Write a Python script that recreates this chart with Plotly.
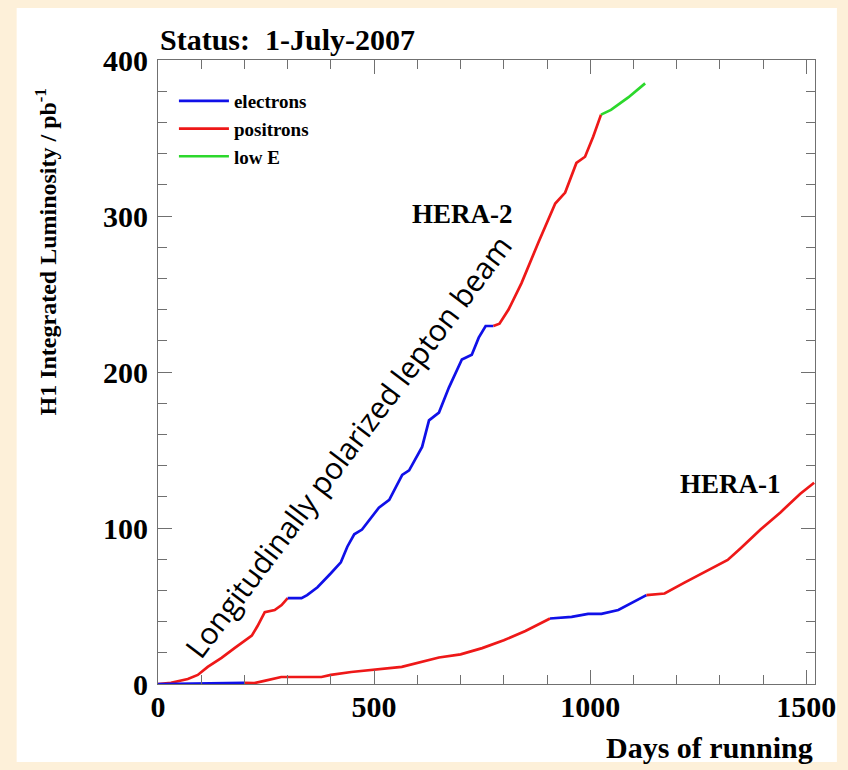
import plotly.graph_objects as go

# ---------------- data ----------------
# HERA-2 (upper curve)
h2_pos1_days = [0, 30, 69, 92, 115, 147, 177, 217, 230, 247, 270, 286, 300]
h2_pos1_lumi = [0, 0.8, 3.2, 5.8, 11, 16.7, 23, 31, 37, 46, 47.4, 50.6, 55]
h2_ele_days = [300, 332, 345, 369, 400, 423, 438, 454, 472, 511, 535, 565, 581, 611,
               627, 650, 673, 703, 726, 742, 758, 776]
h2_ele_lumi = [55, 55, 57, 62, 71, 78, 88, 96, 99, 113, 118, 134, 137, 152,
               169, 174, 190, 208, 211, 222, 229.5, 229.5]
h2_pos2_days = [776, 790, 811, 841, 880, 919, 942, 968, 988, 1007, 1025]
h2_pos2_lumi = [229.5, 231, 240, 257, 283, 308, 315, 334, 338, 351, 365]
h2_lowE_days = [1025, 1048, 1088, 1127]
h2_lowE_lumi = [365, 368, 376, 385]

# HERA-1 (lower curve)
h1_ele1_days = [0, 100, 200]
h1_ele1_lumi = [0, 0.4, 0.8]
h1_pos1_days = [200, 223, 246, 285, 378, 400, 447, 495, 564, 650, 700, 750, 800, 850, 880, 907]
h1_pos1_lumi = [0.8, 0.6, 2, 4.5, 4.5, 5.8, 7.7, 9, 11, 17, 19, 23, 28, 34, 38, 42]
h1_ele2_days = [907, 957, 995, 1026, 1065, 1103, 1130]
h1_ele2_lumi = [42, 43, 45, 45, 47.4, 53, 57]
h1_pos2_days = [1130, 1172, 1218, 1272, 1318, 1348, 1394, 1440, 1486, 1518]
h1_pos2_lumi = [57, 58, 65, 73, 79.5, 87, 99, 110, 122, 129]

x_ticks = [0, 500, 1000, 1500]
y_ticks = [0, 100, 200, 300, 400]

# ---------------- styling ----------------
BLUE = "#1010E8"
RED = "#EE1818"
GREEN = "#2CD82C"
SERIF = "Liberation Serif"
LW = 2.7

segments = [
    (h2_pos1_days, h2_pos1_lumi, RED),
    (h2_ele_days, h2_ele_lumi, BLUE),
    (h2_pos2_days, h2_pos2_lumi, RED),
    (h2_lowE_days, h2_lowE_lumi, GREEN),
    (h1_ele1_days, h1_ele1_lumi, BLUE),
    (h1_pos1_days, h1_pos1_lumi, RED),
    (h1_ele2_days, h1_ele2_lumi, BLUE),
    (h1_pos2_days, h1_pos2_lumi, RED),
]

fig = go.Figure()
for xs, ys, col in segments:
    fig.add_trace(go.Scatter(x=xs, y=ys, mode="lines",
                             line=dict(color=col, width=LW),
                             showlegend=False, hoverinfo="skip"))

# legend-only entries in the original order
for name, col in [("electrons", BLUE), ("positrons", RED), ("low E", GREEN)]:
    fig.add_trace(go.Scatter(x=[None], y=[None], mode="lines",
                             line=dict(color=col, width=LW), name=name, showlegend=True))

axis_common = dict(
    showgrid=False, zeroline=False, showline=True, linecolor="#707070", linewidth=1,
    mirror="allticks", ticks="inside", ticklen=14, tickcolor="#707070", tickwidth=1,
    tickfont=dict(family=SERIF, size=30, color="black", weight="bold"),
)

fig.update_xaxes(range=[0, 1520], tickvals=x_ticks, ticktext=[str(v) for v in x_ticks],
                 minor=dict(ticks="inside", dtick=100, tick0=0, ticklen=9, tickcolor="#707070"),
                 ticklabelstandoff=-4, **axis_common)
fig.update_yaxes(range=[0, 400], tickvals=y_ticks, ticktext=[str(v) for v in y_ticks],
                 minor=dict(ticks="inside", dtick=20, tick0=0, ticklen=9, tickcolor="#707070"),
                 ticklabelstandoff=3, **axis_common)

W, H = 848, 770
L, R, T, B = 158, 30, 60, 86
pw, ph = W - L - R, H - T - B


def px(xp):
    return (xp - L) / pw


def py(yp):
    return (H - B - yp) / ph


fig.update_layout(
    width=W, height=H,
    margin=dict(l=L, r=R, t=T, b=B, pad=0),
    paper_bgcolor="#FDF0D9",
    plot_bgcolor="white",
    showlegend=True,
    legend=dict(x=px(174), y=py(82), xanchor="left", yanchor="top",
                bgcolor="rgba(0,0,0,0)", borderwidth=0,
                font=dict(family=SERIF, size=19, color="black", weight="bold"),
                itemwidth=50, tracegroupgap=0),
    shapes=[dict(type="rect", xref="paper", yref="paper", layer="below",
                 x0=px(16), x1=px(840), y0=py(762), y1=py(8),
                 fillcolor="white", line=dict(width=0))],
    annotations=[
        dict(text="Status:  1-July-2007", xref="paper", yref="paper",
             x=px(158), y=py(40), xanchor="left", yanchor="middle", showarrow=False,
             font=dict(family=SERIF, size=30, color="black", weight="bold")),
        dict(text="H1 Integrated Luminosity / pb<sup>-1</sup>", xref="paper", yref="paper",
             x=px(45), y=py(252), xanchor="center", yanchor="middle", textangle=-90,
             showarrow=False,
             font=dict(family=SERIF, size=24, color="black", weight="bold")),
        dict(text="Days of running", xref="paper", yref="paper",
             x=px(818), y=py(747), xanchor="right", yanchor="middle", showarrow=False,
             font=dict(family=SERIF, size=30, color="black", weight="bold")),
        dict(text="HERA-2", x=705, y=301, xref="x", yref="y", showarrow=False,
             font=dict(family=SERIF, size=27, color="black", weight="bold")),
        dict(text="HERA-1", x=1325, y=128, xref="x", yref="y", showarrow=False,
             font=dict(family=SERIF, size=27, color="black", weight="bold")),
        dict(text="Longitudinally polarized lepton beam", x=440, y=152, xref="x", yref="y",
             showarrow=False, textangle=-53,
             font=dict(family="Open Sans", size=30, color="black")),
    ],
)

fig.write_html("out.html",
               config={"displayModeBar": False},
               post_script="document.body.style.margin='0px';"
                           "document.body.style.overflow='hidden';")
